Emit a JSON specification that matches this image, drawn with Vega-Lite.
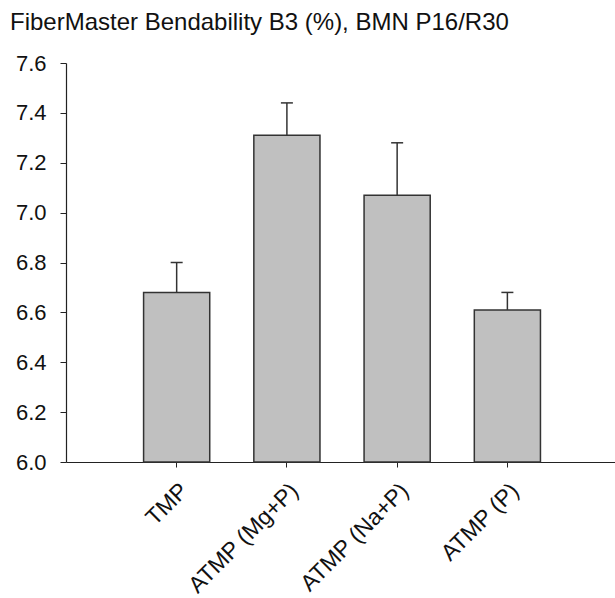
{
  "$schema": "https://vega.github.io/schema/vega-lite/v6.json",
  "autosize": {"type": "none"},
  "padding": {"left": 66, "top": 63, "right": 0, "bottom": 136},
  "width": 549,
  "height": 399,
  "background": "white",
  "title": {
    "text": "FiberMaster Bendability B3 (%), BMN P16/R30",
    "anchor": "start",
    "frame": "group",
    "dx": -56,
    "dy": 9,
    "offset": 26,
    "font": "Liberation Sans",
    "fontSize": 24,
    "fontWeight": "normal",
    "color": "#111111"
  },
  "data": {
    "values": [
      {"sample": "TMP", "mean": 6.68, "upper": 6.80},
      {"sample": "ATMP (Mg+P)", "mean": 7.31, "upper": 7.44},
      {"sample": "ATMP (Na+P)", "mean": 7.07, "upper": 7.28},
      {"sample": "ATMP (P)", "mean": 6.61, "upper": 6.68}
    ]
  },
  "encoding": {
    "x": {
      "field": "sample",
      "type": "nominal",
      "sort": null,
      "title": null,
      "scale": {"paddingInner": 0.4, "paddingOuter": 0.69, "align": 0.51},
      "axis": {
        "labelAngle": -45,
        "labelFont": "Liberation Sans",
        "labelFontSize": 23,
        "labelColor": "#111111",
        "labelPadding": 12,
        "tickSize": 5,
        "tickColor": "#222222",
        "domainColor": "#222222",
        "domainWidth": 1.2,
        "grid": false
      }
    }
  },
  "layer": [
    {
      "mark": {"type": "bar", "fill": "#c0c0c0", "stroke": "#333333", "strokeWidth": 1.5},
      "encoding": {
        "y": {
          "field": "mean",
          "type": "quantitative",
          "title": null,
          "scale": {"domain": [6.0, 7.6], "zero": false, "nice": false},
          "axis": {
            "values": [6.0, 6.2, 6.4, 6.6, 6.8, 7.0, 7.2, 7.4, 7.6],
            "format": ".1f",
            "labelFont": "Liberation Sans",
            "labelFontSize": 22,
            "labelColor": "#111111",
            "labelPadding": 14,
            "tickSize": 6,
            "tickColor": "#222222",
            "domainColor": "#222222",
            "domainWidth": 1.2,
            "grid": false
          }
        },
        "y2": {"datum": 6.0}
      }
    },
    {
      "mark": {"type": "rule", "stroke": "#333333", "strokeWidth": 1.5},
      "encoding": {
        "y": {"field": "mean", "type": "quantitative"},
        "y2": {"field": "upper"}
      }
    },
    {
      "mark": {"type": "tick", "orient": "horizontal", "size": 12, "thickness": 1.5, "color": "#333333", "opacity": 1},
      "encoding": {
        "y": {"field": "upper", "type": "quantitative"}
      }
    }
  ],
  "config": {
    "view": {"stroke": null}
  }
}
